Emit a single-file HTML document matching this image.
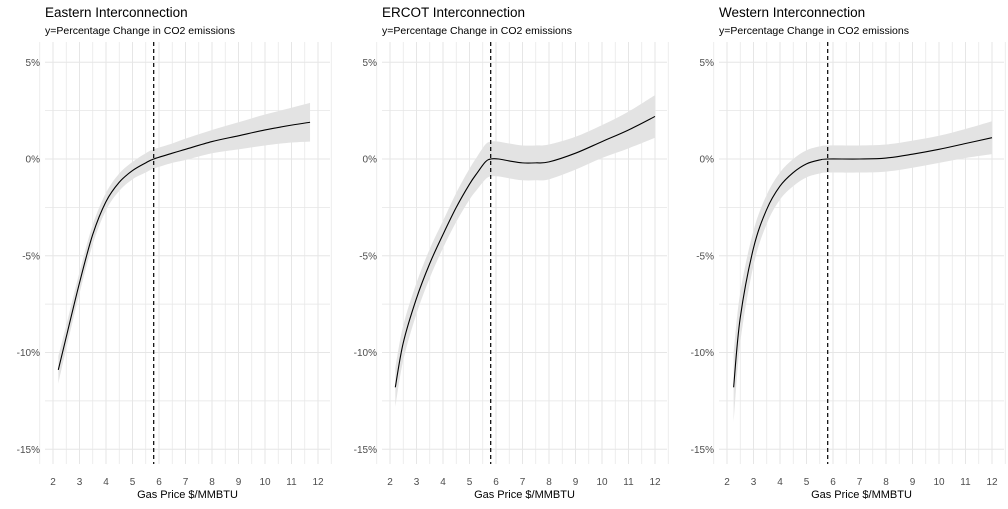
<!DOCTYPE html>
<html><head><meta charset="utf-8"><style>
body{margin:0;background:#fff;font-family:"Liberation Sans",sans-serif}
svg text{font-family:"Liberation Sans",sans-serif}
</style></head><body>
<svg id="chart" width="1008" height="504" xmlns="http://www.w3.org/2000/svg"></svg>
<script>
const xTicks=[2,3,4,5,6,7,8,9,10,11,12];
const yTicks=[5,0,-5,-10,-15];
const yTickLabels=["5%","0%","-5%","-10%","-15%"];
const titles=["Eastern Interconnection","ERCOT Interconnection","Western Interconnection"];
const eastX=[2.2,2.5,3,3.5,4,4.5,5,5.5,5.8,6.5,7,8,9,10,11,11.7];
const eastY=[-10.9,-9.2,-6.4,-3.9,-2.2,-1.2,-0.6,-0.2,0,0.3,0.5,0.9,1.2,1.5,1.75,1.9];
const eastSE=[0.7,0.6,0.55,0.5,0.45,0.45,0.45,0.5,0.5,0.5,0.55,0.6,0.7,0.8,0.9,1.0];
const ercotX=[2.2,2.5,3,3.5,4,4.5,5,5.3,5.6,5.8,6.1,6.5,7,7.5,8,9,10,11,12];
const ercotY=[-11.8,-9.5,-7.2,-5.4,-3.9,-2.5,-1.3,-0.7,-0.15,0,0,-0.1,-0.2,-0.2,-0.15,0.3,0.9,1.5,2.2];
const ercotSE=[1.0,0.9,0.8,0.75,0.7,0.75,0.8,0.85,0.9,0.9,0.9,0.9,0.9,0.9,0.9,0.85,0.85,0.95,1.1];
const westX=[2.25,2.5,3,3.5,4,4.5,5,5.5,5.8,7,8,9,10,11,12];
const westY=[-11.8,-8.2,-4.6,-2.6,-1.4,-0.7,-0.25,-0.05,0,0,0.05,0.25,0.5,0.8,1.1];
const westSE=[1.8,1.3,0.9,0.75,0.7,0.7,0.7,0.7,0.7,0.7,0.7,0.7,0.7,0.75,0.85];
const vline=5.8;
const series=[[eastX,eastY,eastSE],[ercotX,ercotY,ercotSE],[westX,westY,westSE]];
const NS="http://www.w3.org/2000/svg";
const svg=document.getElementById('chart');
function mk(tag,attrs,parent){const e=document.createElementNS(NS,tag);for(const k in attrs)e.setAttribute(k,attrs[k]);(parent||svg).appendChild(e);return e;}
function smooth(pts){let d='M'+pts[0][0]+','+pts[0][1];for(let i=0;i<pts.length-1;i++){const p0=pts[i-1]||pts[i],p1=pts[i],p2=pts[i+1],p3=pts[i+2]||p2;d+=' C'+(p1[0]+(p2[0]-p0[0])/6)+','+(p1[1]+(p2[1]-p0[1])/6)+' '+(p2[0]-(p3[0]-p1[0])/6)+','+(p2[1]-(p3[1]-p1[1])/6)+' '+p2[0]+','+p2[1];}return d;}
const offsets=[0,337,674];
series.forEach((s,p)=>{
  const off=offsets[p];
  const xs=v=>off+53+(v-2)*26.5;
  const ys=v=>159-v*19.35;
  const g=mk('g',{});
  
  
  const L=off+45,R=off+330,T=42,B=464;
  for(let v=1.5;v<=12.5;v+=0.5){const ln=mk('line',{x1:xs(v),x2:xs(v),y1:T,y2:B,stroke:'#e6e6e6','stroke-width':v%1===0?1:0.7},g);}
  for(let v=-17.5;v<=7.5;v+=2.5){const y=ys(v);if(y<T||y>B)continue;const ln=mk('line',{x1:L,x2:R,y1:y,y2:y,stroke:'#e6e6e6','stroke-width':v%5===0?1:0.7},g);}
  const [X,Y,S]=s;
  const up=X.map((x,i)=>[xs(x),ys(Y[i]+S[i])]);
  const lo=X.map((x,i)=>[xs(x),ys(Y[i]-S[i])]).reverse();
  const band=mk('path',{d:smooth(up)+' L'+smooth(lo).slice(1)+' Z',fill:'#e3e3e3',stroke:'none'},g);
  
  
  const dl=mk('line',{x1:xs(vline),x2:xs(vline),y1:T,y2:B,stroke:'#000','stroke-width':1.2,'stroke-dasharray':'4,3'},g);
  
  
  const line=mk('path',{d:smooth(X.map((x,i)=>[xs(x),ys(Y[i])])),fill:'none',stroke:'#000','stroke-width':1.1},g);
  
  
  xTicks.forEach(v=>{const t=mk('text',{x:xs(v),y:485,'text-anchor':'middle','font-size':10,fill:'#4d4d4d'},g);t.textContent=v;});
  yTicks.forEach((v,i)=>{const t=mk('text',{x:off+40,y:ys(v)+3.5,'text-anchor':'end','font-size':10,fill:'#4d4d4d'},g);t.textContent=yTickLabels[i];});
  const xt=mk('text',{x:(L+R)/2,y:498,'text-anchor':'middle','font-size':11,fill:'#000'},g);xt.textContent='Gas Price $/MMBTU';
  
  const tt=mk('text',{x:off+45,y:17,'font-size':13.5,fill:'#000'},g);tt.textContent=titles[p];
  
  const st=mk('text',{x:off+45,y:34,'font-size':10.5,fill:'#000'},g);st.textContent='y=Percentage Change in CO2 emissions';
  
});
</script>
</body></html>
